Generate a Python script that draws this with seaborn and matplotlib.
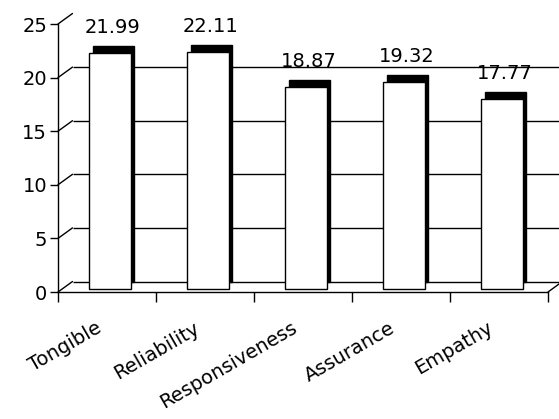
import matplotlib
matplotlib.use("Agg")
import matplotlib.pyplot as plt
from matplotlib.transforms import ScaledTranslation
from matplotlib.patches import ConnectionPatch
import seaborn as sns

# Mean scores per service-quality dimension
dimensions = ["Tongible", "Reliability", "Responsiveness", "Assurance", "Empathy"]
scores = [21.99, 22.11, 18.87, 19.32, 17.77]
y_ticks = [0, 5, 10, 15, 20, 25]

sns.set_style("white")
plt.rcParams["font.family"] = ["DejaVu Sans"]
plt.rcParams["text.color"] = "black"
plt.rcParams["xtick.labelcolor"] = "black"
plt.rcParams["ytick.labelcolor"] = "black"

DPI = 100
FS = 14
fig = plt.figure(figsize=(5.59, 4.19), dpi=DPI)
ax = fig.add_axes([58 / 559, 127 / 419, 490 / 559, 268 / 419])


def shift(dx_px, dy_up_px):
    """Offset in screen pixels (x right, y up)."""
    return ScaledTranslation(dx_px / DPI, dy_up_px / DPI, fig.dpi_scale_trans)


back = ax.transData + shift(14.5, 10.5)      # back wall plane
bar_front = ax.transData + shift(3, 3)       # front face of the columns
bar_back = ax.transData + shift(6.5, 10)     # rear face of the columns

lw = 1.0

# rear faces drawn solid black; the visible part forms the top and side
sns.barplot(x=dimensions, y=scores, color="black", saturation=1,
            edgecolor="black", linewidth=lw, width=0.42, ax=ax, zorder=2)
n_back = len(ax.patches)
for p in ax.patches:
    p.set_transform(bar_back)

# white front faces
sns.barplot(x=dimensions, y=scores, color="white", saturation=1,
            edgecolor="black", linewidth=lw, width=0.42, ax=ax, zorder=3)
for p in ax.patches[n_back:]:
    p.set_transform(bar_front)
    p.set_facecolor("white")

ax.set_xlim(-0.5, len(dimensions) - 0.5)
ax.set_ylim(0, 25)

# gridlines on the back wall (floor edge included)
ax.hlines(y_ticks[:-1], -0.5, len(dimensions) - 0.5, colors="black",
          linewidth=lw, transform=back, clip_on=False, zorder=0.5)

# receding edges of the side wall and floor
for v in y_ticks:
    fig.add_artist(ConnectionPatch((-0.5, v), (-0.5, v), coordsA=ax.transData,
                                   coordsB=back, arrowstyle="-", shrinkA=0,
                                   shrinkB=0, color="black", linewidth=lw))
fig.add_artist(ConnectionPatch((len(dimensions) - 0.5, 0), (len(dimensions) - 0.5, 0),
                               coordsA=ax.transData, coordsB=back, arrowstyle="-",
                               shrinkA=0, shrinkB=0, color="black", linewidth=lw))

# value labels above each column
for i, v in enumerate(scores):
    ax.annotate(f"{v:.2f}", (i, v), xycoords=bar_front,
                xytext=(3 * 0.72, 20 * 0.72), textcoords="offset points",
                ha="center", va="baseline", fontsize=FS, color="black",
                annotation_clip=False)

# axes
for s in ["top", "right"]:
    ax.spines[s].set_visible(False)
for s in ["left", "bottom"]:
    ax.spines[s].set_color("black")
    ax.spines[s].set_linewidth(lw)

ax.set_yticks(y_ticks)
ax.set_yticklabels([str(t) for t in y_ticks], fontsize=FS, color="black")
ax.tick_params(axis="y", direction="out", length=5.8, width=lw, color="black",
               pad=2, left=True)

ax.set_xticks(range(len(dimensions)))
ax.set_xticks([i - 0.5 for i in range(len(dimensions) + 1)], minor=True)
ax.tick_params(axis="x", which="major", length=0, pad=19)
ax.tick_params(axis="x", which="minor", direction="out", length=7, width=lw,
               color="black", bottom=True)
ax.set_xticklabels(dimensions, rotation=30, ha="right", va="top",
                   rotation_mode="anchor", fontsize=FS, color="black")
for lab in ax.get_xticklabels():
    lab.set_transform(lab.get_transform() + shift(-12, 0))

ax.set_xlabel("")
ax.set_ylabel("")
ax.set_facecolor("white")
fig.patch.set_facecolor("white")

fig.savefig("out.png", dpi=DPI, facecolor="white")
